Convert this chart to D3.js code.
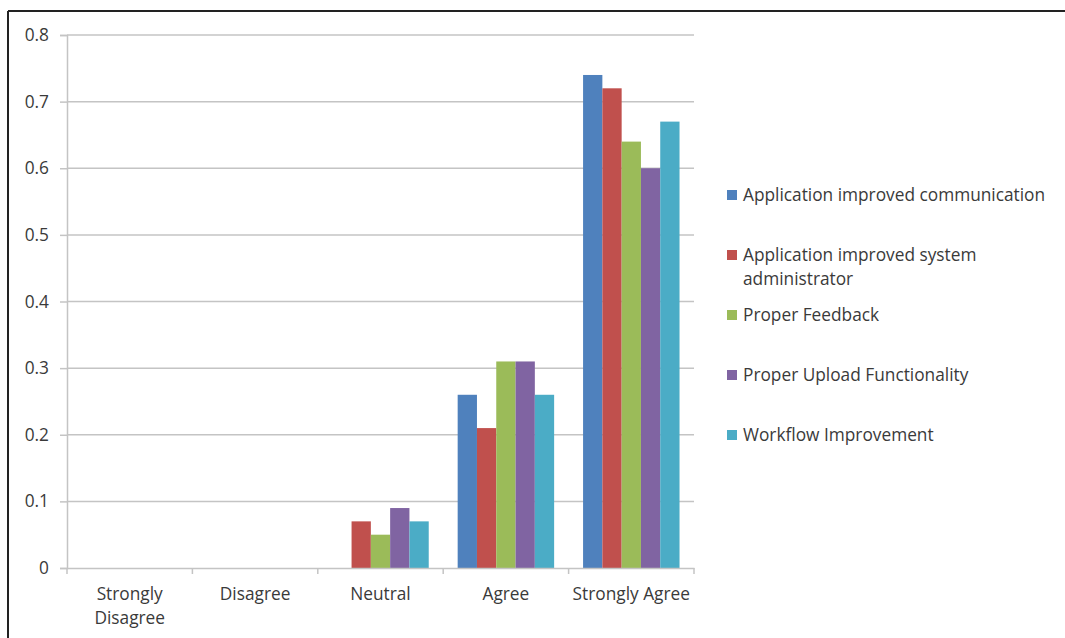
<!DOCTYPE html>
<html>
<head>
<meta charset="utf-8">
<script src="https://cdn.jsdelivr.net/npm/d3@7"></script>
<style>
  html, body { margin: 0; padding: 0; background: #fff; }
  svg { display: block; }
  text { font-family: "Open Sans", Lato, "Liberation Sans", sans-serif; fill: #3a3a3a; }
</style>
</head>
<body>
<svg id="chart" width="1065" height="638"></svg>
<script>
// Response categories along the x axis
const categories = ["Strongly Disagree", "Disagree", "Neutral", "Agree", "Strongly Agree"];

// Series names shown in the legend
const seriesNames = [
  "Application improved communication",
  "Application improved system administrator",
  "Proper Feedback",
  "Proper Upload Functionality",
  "Workflow Improvement"
];

// Share of responses per category, one array per series
const appCommunication = [0, 0, 0,    0.26, 0.74];
const appSysAdmin      = [0, 0, 0.07, 0.21, 0.72];
const properFeedback   = [0, 0, 0.05, 0.31, 0.64];
const properUpload     = [0, 0, 0.09, 0.31, 0.60];
const workflow         = [0, 0, 0.07, 0.26, 0.67];

const yTicks = [0, 0.1, 0.2, 0.3, 0.4, 0.5, 0.6, 0.7, 0.8];

const seriesValues = [appCommunication, appSysAdmin, properFeedback, properUpload, workflow];
const colors = ["#4F81BD", "#C0504D", "#9BBB59", "#8064A2", "#4BACC6"];
const fontSize = "17.3px";

const svg = d3.select("#chart");

// Outer frame (top and left edges)
svg.append("line").attr("x1", 8).attr("x2", 1065).attr("y1", 11).attr("y2", 11)
  .attr("stroke", "#222").attr("stroke-width", 2);
svg.append("line").attr("x1", 8).attr("x2", 8).attr("y1", 11).attr("y2", 638)
  .attr("stroke", "#222").attr("stroke-width", 2);

const plot = { left: 67, right: 694, top: 35, bottom: 568 };

const x0 = d3.scaleBand().domain(categories).range([plot.left, plot.right]).paddingInner(0).paddingOuter(0);
// Excel-style clustered bars: gap width 150% of one bar
const barW = x0.bandwidth() / (seriesNames.length + 1.5);
const x1 = d3.scaleBand().domain(d3.range(seriesNames.length))
  .range([barW * 0.75, barW * 0.75 + barW * seriesNames.length]);

const y = d3.scaleLinear().domain([0, 0.8]).range([plot.bottom, plot.top]);

// Horizontal gridlines
svg.append("g").selectAll("line").data(yTicks.filter(d => d > 0)).join("line")
  .attr("x1", plot.left).attr("x2", plot.right)
  .attr("y1", d => y(d)).attr("y2", d => y(d))
  .attr("stroke", "#c4c4c4").attr("stroke-width", 1.5);

// Y axis
const yAxis = svg.append("g").attr("transform", `translate(${plot.left},0)`)
  .call(d3.axisLeft(y).tickValues(yTicks).tickFormat(d => d === 0 ? "0" : d3.format(".1f")(d)).tickSize(7).tickPadding(11));
yAxis.select(".domain").attr("stroke", "#c4c4c4").attr("stroke-width", 1.5);
yAxis.selectAll(".tick line").attr("stroke", "#c4c4c4").attr("stroke-width", 1.5);
yAxis.selectAll(".tick text").style("font-size", fontSize).attr("fill", "#3a3a3a");

// Bars
const groups = svg.append("g").selectAll("g").data(categories).join("g")
  .attr("transform", d => `translate(${x0(d)},0)`);
groups.selectAll("rect")
  .data((c, ci) => seriesValues.map((vals, si) => ({ si, v: vals[ci] })))
  .join("rect")
  .attr("x", d => x1(d.si))
  .attr("width", x1.bandwidth())
  .attr("y", d => y(d.v))
  .attr("height", d => y(0) - y(d.v))
  .attr("fill", d => colors[d.si]);

// X axis
const xAxis = svg.append("g").attr("transform", `translate(0,${plot.bottom})`)
  .call(d3.axisBottom(x0).tickSize(0).tickFormat(""));
xAxis.select(".domain").attr("stroke", "#c4c4c4").attr("stroke-width", 1.5);
// Tick marks at category boundaries
svg.append("g").selectAll("line").data(d3.range(categories.length + 1)).join("line")
  .attr("x1", i => plot.left + i * x0.bandwidth()).attr("x2", i => plot.left + i * x0.bandwidth())
  .attr("y1", plot.bottom).attr("y2", plot.bottom + 6)
  .attr("stroke", "#c4c4c4").attr("stroke-width", 1.5);

// Category labels (wrap long ones onto two lines)
const catLines = { "Strongly Disagree": ["Strongly", "Disagree"] };
categories.forEach(c => {
  const lines = catLines[c] || [c];
  const t = svg.append("text")
    .attr("x", x0(c) + x0.bandwidth() / 2)
    .attr("y", 600)
    .attr("text-anchor", "middle")
    .style("font-size", fontSize);
  lines.forEach((l, i) => t.append("tspan").attr("x", x0(c) + x0.bandwidth() / 2).attr("dy", i === 0 ? 0 : 24).text(l));
});

// Legend
const legendLines = [
  ["Application improved communication"],
  ["Application improved system", "administrator"],
  ["Proper Feedback"],
  ["Proper Upload Functionality"],
  ["Workflow Improvement"]
];
const legendY = [195, 255, 315, 375, 435];
seriesNames.forEach((name, i) => {
  const g = svg.append("g");
  g.append("rect").attr("x", 727).attr("y", legendY[i] - 5).attr("width", 10).attr("height", 10).attr("fill", colors[i]);
  const t = g.append("text").attr("x", 743).attr("y", legendY[i] + 6).style("font-size", fontSize);
  legendLines[i].forEach((l, j) => t.append("tspan").attr("x", 743).attr("dy", j === 0 ? 0 : 24).text(l));
});
</script>
</body>
</html>
